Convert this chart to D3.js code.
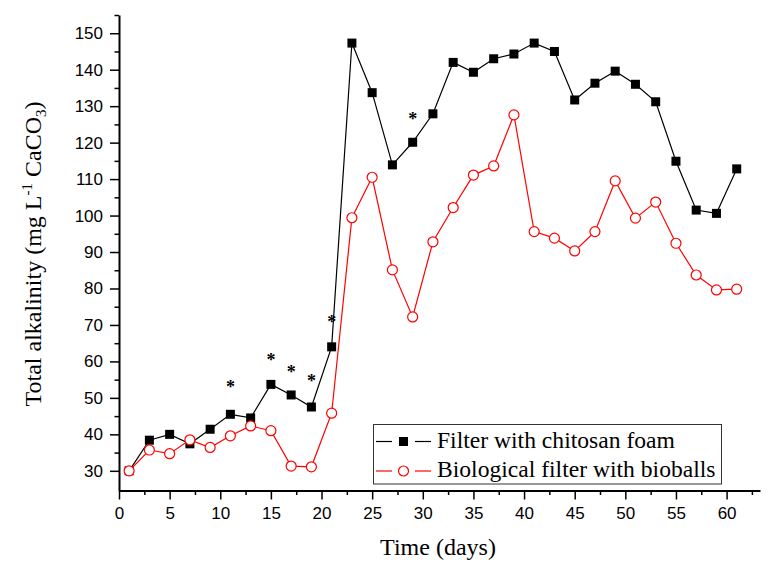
<!DOCTYPE html>
<html>
<head>
<meta charset="utf-8">
<script src="https://cdn.jsdelivr.net/npm/d3@7"></script>
<style>
  body { margin: 0; background: #fff; }
  svg { display: block; }
  .tick text { font-family: "Liberation Sans", Arial, sans-serif; font-size: 17px; fill: #000; }
  .serif { font-family: "Liberation Serif", "Times New Roman", serif; fill: #000; }
</style>
</head>
<body>
<div id="viz"></div>
<script>
// sampling days
const days = [1, 3, 5, 7, 9, 11, 13, 15, 17, 19, 21, 23, 25, 27, 29, 31,
              33, 35, 37, 39, 41, 43, 45, 47, 49, 51, 53, 55, 57, 59, 61];

// total alkalinity, filter with chitosan foam
const chitosan = [30.0, 38.4, 40.0, 37.4, 41.4, 45.5, 44.5, 53.7, 50.8, 47.5, 64.0,
                  147.3, 133.7, 113.9, 120.1, 127.9, 142.0, 139.3, 143.0, 144.3, 147.3,
                  145.0, 131.7, 136.3, 139.6, 136.0, 131.2, 114.9, 101.5, 100.6, 112.8];

// total alkalinity, biological filter with bioballs
const bioballs = [30.0, 35.7, 34.7, 38.5, 36.4, 39.6, 42.3, 41.0, 31.3, 31.1, 45.8,
                  99.4, 110.5, 85.1, 72.2, 92.8, 102.2, 111.1, 113.6, 127.6, 95.6,
                  93.8, 90.3, 95.6, 109.5, 99.3, 103.7, 92.4, 83.7, 79.6, 79.8];

// significance marks (*)
const starDays = [11, 15, 17, 19, 21, 29];
const starValues = [53.5, 60.9, 57.6, 55.1, 71.4, 127.0];

const xTicks = [0, 5, 10, 15, 20, 25, 30, 35, 40, 45, 50, 55, 60];
const yTicks = [30, 40, 50, 60, 70, 80, 90, 100, 110, 120, 130, 140, 150];

const seriesNames = ['Filter with chitosan foam', 'Biological filter with bioballs'];

const width = 770;
const height = 562;

const svg = d3.select('#viz')
              .append('svg')
              .attr('width', width)
              .attr('height', height);

const xScale = d3.scaleLinear().domain([0, 63.3]).range([119, 760]);
const yScale = d3.scaleLinear().domain([24.6, 155]).range([490.5, 15]);

// minor ticks first, then major ticks with labels
const xMinor = xTicks.map(d => d + 2.5);
const yMinor = yTicks.map(d => d + 5);

svg.append('g')
   .attr('transform', 'translate(0,' + yScale.range()[0] + ')')
   .call(d3.axisBottom(xScale).tickValues(xMinor).tickSize(4.5).tickFormat(''))
   .call(g => g.select('.domain').remove())
   .selectAll('line').attr('stroke-width', 1.5);

svg.append('g')
   .attr('transform', 'translate(' + xScale.range()[0] + ',0)')
   .call(d3.axisLeft(yScale).tickValues(yMinor).tickSize(4.5).tickFormat(''))
   .call(g => g.select('.domain').remove())
   .selectAll('line').attr('stroke-width', 1.5);

const xAxis = svg.append('g')
   .attr('id', 'x-axis')
   .attr('transform', 'translate(0,' + yScale.range()[0] + ')')
   .call(d3.axisBottom(xScale).tickValues(xTicks).tickSize(9).tickPadding(7).tickSizeOuter(0));
xAxis.select('.domain').attr('stroke-width', 2);
xAxis.selectAll('.tick line').attr('stroke-width', 1.5);

const yAxis = svg.append('g')
   .attr('id', 'y-axis')
   .attr('transform', 'translate(' + xScale.range()[0] + ',0)')
   .call(d3.axisLeft(yScale).tickValues(yTicks).tickSize(9).tickPadding(7).tickSizeOuter(0));
yAxis.select('.domain').attr('stroke-width', 2);
yAxis.selectAll('.tick line').attr('stroke-width', 1.5);

// axis titles
svg.append('text')
   .attr('class', 'serif')
   .attr('x', 438)
   .attr('y', 555)
   .attr('text-anchor', 'middle')
   .style('font-size', '24px')
   .text('Time (days)');

const yTitle = svg.append('text')
   .attr('class', 'serif')
   .attr('transform', 'translate(41,254) rotate(-90)')
   .attr('text-anchor', 'middle')
   .style('font-size', '24px');
yTitle.append('tspan').text('Total alkalinity (mg L');
yTitle.append('tspan').attr('dy', -9).style('font-size', '15px').text('-1');
yTitle.append('tspan').attr('dy', 9).text(' CaCO');
yTitle.append('tspan').attr('dy', 5).style('font-size', '15px').text('3');
yTitle.append('tspan').attr('dy', -5).text(')');

// data
const rows = days.map((d, i) => ({ day: d, a: chitosan[i], b: bioballs[i] }));

const lineA = d3.line().x(d => xScale(d.day)).y(d => yScale(d.a));
const lineB = d3.line().x(d => xScale(d.day)).y(d => yScale(d.b));

svg.append('path')
   .datum(rows)
   .attr('d', lineA)
   .attr('fill', 'none')
   .attr('stroke', '#000')
   .attr('stroke-width', 1.2);

svg.selectAll('rect.pt')
   .data(rows)
   .enter()
   .append('rect')
   .attr('class', 'pt')
   .attr('x', d => xScale(d.day) - 4.5)
   .attr('y', d => yScale(d.a) - 4.5)
   .attr('width', 9)
   .attr('height', 9)
   .attr('fill', '#000');

svg.append('path')
   .datum(rows)
   .attr('d', lineB)
   .attr('fill', 'none')
   .attr('stroke', '#ff0000')
   .attr('stroke-width', 1.2);

svg.selectAll('circle.pt')
   .data(rows)
   .enter()
   .append('circle')
   .attr('class', 'pt')
   .attr('cx', d => xScale(d.day))
   .attr('cy', d => yScale(d.b))
   .attr('r', 5)
   .attr('fill', '#fff')
   .attr('stroke', '#ff0000')
   .attr('stroke-width', 1.2);

// stars
svg.selectAll('text.star')
   .data(starDays)
   .enter()
   .append('text')
   .attr('class', 'star serif')
   .attr('x', d => xScale(d))
   .attr('y', (d, i) => yScale(starValues[i]))
   .attr('dy', '0.45em')
   .attr('text-anchor', 'middle')
   .style('font-size', '18px')
   .style('font-weight', 'bold')
   .text('*');

// legend
const legend = svg.append('g').attr('id', 'legend');
legend.append('rect')
      .attr('x', 373.5)
      .attr('y', 424.5)
      .attr('width', 348)
      .attr('height', 59.5)
      .attr('fill', '#fff')
      .attr('stroke', '#333')
      .attr('stroke-width', 1);

const legendRows = [
    { y: 441.5, color: '#000', marker: 'square', base: 448 },
    { y: 471, color: '#ff0000', marker: 'circle', base: 477 }
];

legendRows.forEach((r, i) => {
    const g = legend.append('g');
    g.append('line').attr('x1', 376).attr('x2', 392).attr('y1', r.y).attr('y2', r.y)
     .attr('stroke', r.color).attr('stroke-width', 1.2);
    g.append('line').attr('x1', 415).attr('x2', 431).attr('y1', r.y).attr('y2', r.y)
     .attr('stroke', r.color).attr('stroke-width', 1.2);
    if (r.marker === 'square') {
        g.append('rect').attr('x', 399).attr('y', r.y - 4.5).attr('width', 9).attr('height', 9)
         .attr('fill', '#000');
    } else {
        g.append('circle').attr('cx', 403.5).attr('cy', r.y).attr('r', 5)
         .attr('fill', '#fff').attr('stroke', r.color).attr('stroke-width', 1.2);
    }
    g.append('text')
     .attr('class', 'serif')
     .attr('x', 437)
     .attr('y', r.base)
     .style('font-size', '23.6px')
     .text(seriesNames[i]);
});
</script>
</body>
</html>
